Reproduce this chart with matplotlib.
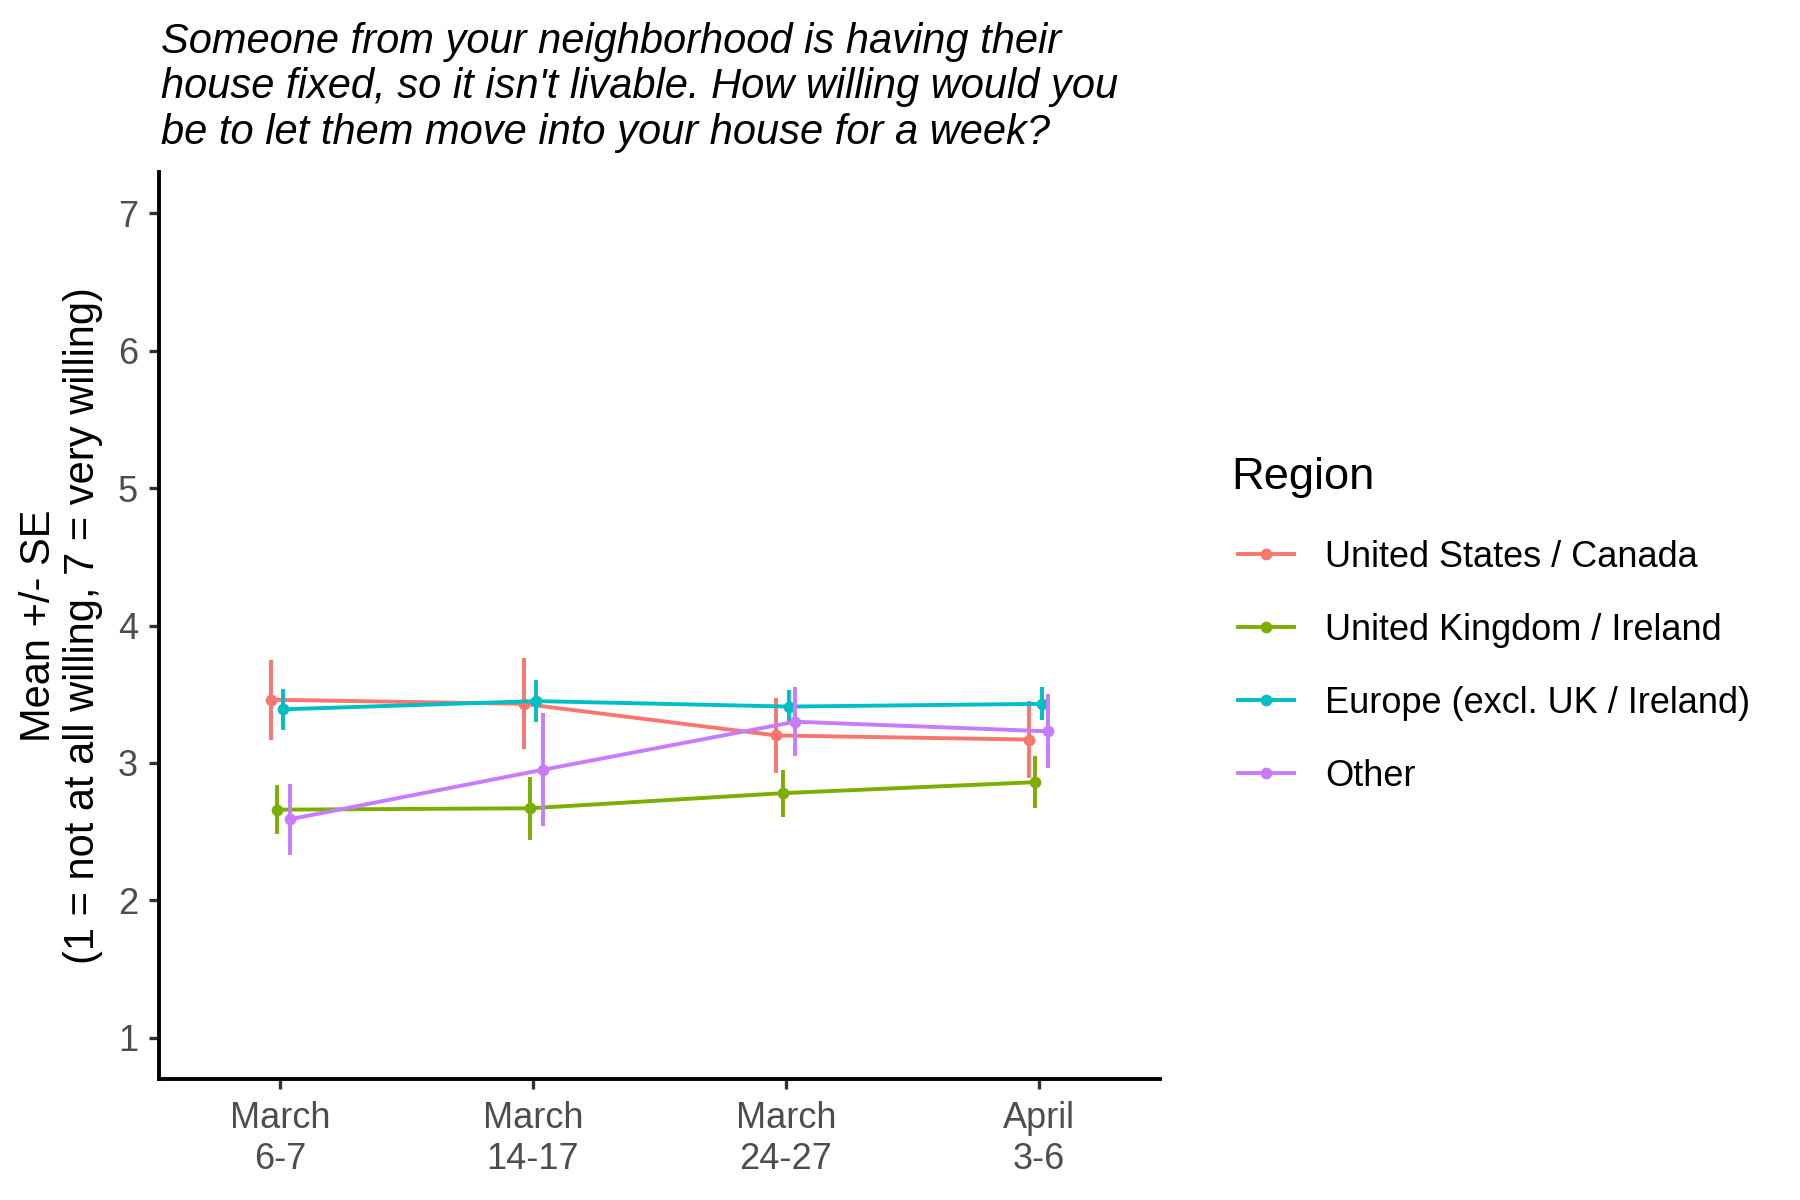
import numpy as np
import matplotlib.pyplot as plt
from matplotlib.lines import Line2D

plt.rcParams['font.family'] = ['Liberation Sans', 'DejaVu Sans']

# survey waves
waves = ['March\n6-7', 'March\n14-17', 'March\n24-27', 'April\n3-6']

regions = ['United States / Canada', 'United Kingdom / Ireland',
           'Europe (excl. UK / Ireland)', 'Other']
colors = ['#F8766D', '#7CAE00', '#00BFC4', '#C77CFF']

# means per wave
us_mean = [3.46, 3.43, 3.20, 3.17]
uk_mean = [2.66, 2.67, 2.78, 2.86]
eu_mean = [3.39, 3.45, 3.41, 3.43]
other_mean = [2.59, 2.95, 3.30, 3.23]

# standard errors per wave
us_se = [0.29, 0.33, 0.27, 0.28]
uk_se = [0.18, 0.23, 0.17, 0.19]
eu_se = [0.15, 0.15, 0.12, 0.12]
other_se = [0.26, 0.41, 0.25, 0.27]

means = [us_mean, uk_mean, eu_mean, other_mean]
ses = [us_se, uk_se, eu_se, other_se]

fig = plt.figure(figsize=(9, 6), dpi=200)
ax = fig.add_axes([0.0883, 0.1008, 0.5561, 0.7559])

x = np.arange(1, len(waves) + 1)
dodge = 0.1
n = len(regions)
for i, (name, col) in enumerate(zip(regions, colors)):
    off = -dodge / 2 + dodge / n * (i + 0.5)
    xs = x + off
    ax.plot(xs, means[i], color=col, lw=1.4, zorder=2 + i)
    ax.errorbar(xs, means[i], yerr=ses[i], fmt='o', color=col, ms=3.2,
                elinewidth=1.4, capsize=0, zorder=2 + i)

ax.set_xlim(0.52, 4.48)
ax.set_ylim(0.7, 7.3)
ax.set_xticks(x)
ax.set_xticklabels(waves, linespacing=1.2)
ax.set_yticks(range(1, 8))

for s in ['top', 'right']:
    ax.spines[s].set_visible(False)
for s in ['left', 'bottom']:
    ax.spines[s].set_linewidth(1.4)
    ax.spines[s].set_color('black')

ax.tick_params(axis='both', labelsize=13, labelcolor='#4D4D4D',
               color='#333333', width=1.2, length=3.5, pad=4)
ax.tick_params(axis='x', pad=4.5)

ax.set_ylabel('Mean +/- SE\n(1 = not at all willing, 7 = very willing)',
              fontsize=15, linespacing=1.12)
ax.yaxis.label.set_verticalalignment('center')
ax.yaxis.set_label_coords(-0.098, 0.5)

fig.text(0.0894, 0.982,
         "Someone from your neighborhood is having their\n"
         "house fixed, so it isn't livable. How willing would you\n"
         "be to let them move into your house for a week?",
         fontsize=15, style='italic', ha='left', va='top', linespacing=1.18)

handles = [Line2D([0], [0], color=c, lw=1.4, marker='o', ms=3.2) for c in colors]
leg = ax.legend(handles, regions, title='Region', loc='upper left',
                bbox_to_anchor=(0.688, 0.619), bbox_transform=fig.transFigure,
                frameon=False, fontsize=13, title_fontsize=16.3,
                handlelength=1.55, handletextpad=0.85, labelspacing=1.05,
                borderpad=0, borderaxespad=0, alignment='left')
leg._legend_box.sep = 15
leg.get_title().set_x(-7)

fig.savefig('out.png', dpi=200, facecolor='white')
